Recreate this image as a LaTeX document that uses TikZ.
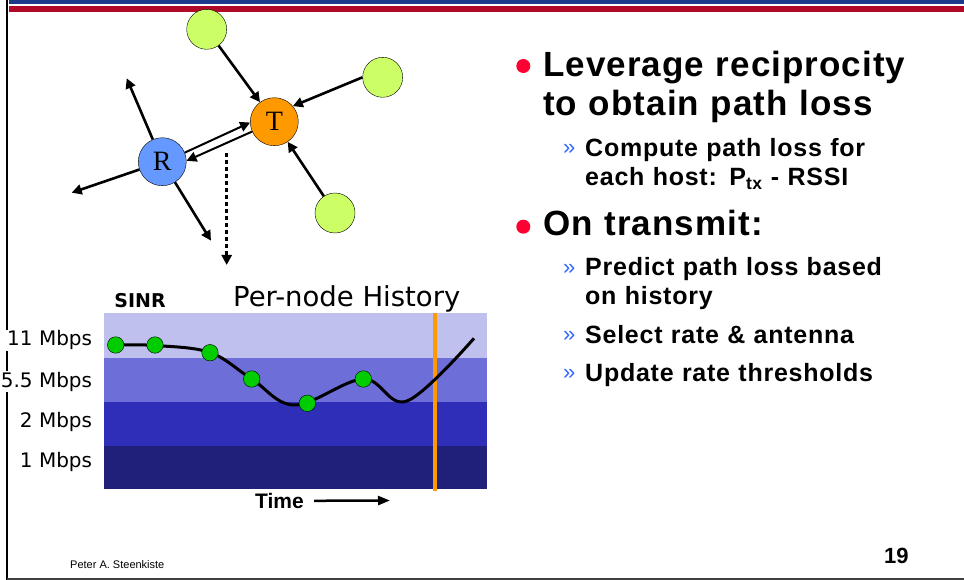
\documentclass[tikz,border=0pt]{standalone}
\usepackage{fontspec}
\setmainfont{Liberation Sans}
\newfontfamily\bulletfont[LetterSpace=3]{Liberation Sans}
\newfontfamily\stationfont{Liberation Serif}
\newfontfamily\chartfont{DejaVu Sans}
\usetikzlibrary{arrows.meta,positioning}

\definecolor{hostgreen}{HTML}{CCFF66}
\definecolor{txorange}{HTML}{FF9900}
\definecolor{rxblue}{HTML}{6699FF}
\definecolor{bandA}{HTML}{C0C0EE}
\definecolor{bandB}{HTML}{6E6ED8}
\definecolor{bandC}{HTML}{2E2EB8}
\definecolor{bandD}{HTML}{20207A}
\definecolor{dotgreen}{HTML}{00CC00}
\definecolor{bulletred}{HTML}{FF0033}
\definecolor{chevblue}{HTML}{3366FF}
\definecolor{barblueL}{HTML}{1E3A8A}
\definecolor{barblueM}{HTML}{3A6BF0}
\definecolor{barredL}{HTML}{B00A28}
\definecolor{barredM}{HTML}{FF0030}

\begin{document}
\begin{tikzpicture}[x=1pt, y=-1pt,
    host/.style={circle, draw, thin, fill=hostgreen, minimum size=40pt, inner sep=0pt},
    station/.style={circle, draw, thin, minimum size=48pt, inner sep=0pt, font=\stationfont\fontsize{28}{28}\selectfont},
    arrow/.style={-{Triangle[length=10pt,width=10pt]}, line width=2.6pt},
    sample/.style={circle, draw, thin, fill=dotgreen, minimum size=16.5pt, inner sep=0pt},
    rate/.style={anchor=base east, inner sep=1pt, fill=white, font=\chartfont\fontsize{20}{20}\selectfont},
    bullet/.style={circle, fill=bulletred, minimum size=14pt, inner sep=0pt},
    chev/.style={anchor=base west, inner sep=0pt, text=chevblue, font=\fontsize{22}{22}\selectfont},
    head/.style={anchor=base west, inner sep=0pt, text width=400pt, align=left, font=\bulletfont\bfseries\fontsize{35}{39.3}\selectfont},
    item/.style={anchor=base west, inner sep=0pt, text width=360pt, align=left, font=\bulletfont\bfseries\fontsize{25}{28.5}\selectfont}
]
    \useasboundingbox (0,0) rectangle (964,580);

    % slide frame
    \shade[left color=barblueL, middle color=barblueM, right color=barblueL] (9,0) rectangle (964,3.3);
    \shade[left color=barredL, middle color=barredM, right color=barredL] (9,6.7) rectangle (964,11.7);
    \draw[line width=2pt] (7,0) -- (7,580);
    \draw[line width=1.5pt, black!75] (7,579) -- (964,579);

    % hosts around the transmitter
    \node[host] (hostA) at (206.7,29.3) {};
    \node[host] (hostB) at (382.7,77.3) {};
    \node[host] (hostC) at (335,213) {};
    \node[station, fill=txorange] (tx) at (274.3,121.7) {T};
    \node[station, fill=rxblue] (rx) at (162.3,161.7) {R};
    \coordinate (outA) at (126.7,78.3);
    \coordinate (outB) at (71.7,192.7);
    \coordinate (outC) at (211,240.7);
    \coordinate (histtop) at (226.7,153);
    \coordinate (histend) at (226.7,265);

    \draw[arrow] (hostA) -- (tx);
    \draw[arrow] (hostB.west) -- (tx.40);
    \draw[arrow] (hostC) -- (tx);
    \draw[arrow] (rx) -- (outA);
    \draw[arrow] (rx) -- (outB);
    \draw[arrow] (rx) -- (outC);
    \draw[arrow, line width=2pt] (rx.22) -- (tx.182);
    \draw[arrow, line width=2pt] (tx.204) -- (rx.2);
    \draw[arrow, line width=3pt, dash pattern=on 4pt off 3pt] (histtop) -- (histend);

    % per-node history chart
    \fill[bandA] (104,313.3) rectangle (487.3,357.5);
    \fill[bandB] (104,357.5) rectangle (487.3,401.7);
    \fill[bandC] (104,401.7) rectangle (487.3,445.7);
    \fill[bandD] (104,445.7) rectangle (487.3,489);
    \draw[txorange, line width=3.3pt] (435,313) -- (435,490.7);
    \draw[line width=3pt] plot[smooth, tension=0.6] coordinates {(115.7,345) (155,345.5) (210,352.5) (251.7,379) (295,405) (363.3,379) (407,401) (474,338.3)};
    \node[sample] (s1) at (115.7,345) {};
    \node[sample] (s2) at (155,345) {};
    \node[sample] (s3) at (210,352.7) {};
    \node[sample] (s4) at (251.7,379) {};
    \node[sample] (s5) at (307.3,403.3) {};
    \node[sample] (s6) at (363.3,379) {};

    \node[anchor=base, inner sep=0pt, font=\chartfont\bfseries\fontsize{19}{19}\selectfont] (sinr) at (140,307.3) {SINR};
    \node[anchor=base west, inner sep=0pt, font=\chartfont\fontsize{27.5}{27.5}\selectfont] (hist) at (233,306) {Per-node History};
    \node[rate] (r11) at (93.3,345.7) {11 Mbps};
    \node[rate] (r55) at (93.3,387.3) {5.5 Mbps};
    \node[rate] (r2) at (93.3,427.3) {2 Mbps};
    \node[rate] (r1) at (93.3,467.3) {1 Mbps};
    \node[anchor=base west, inner sep=0pt, font=\bfseries\fontsize{21}{21}\selectfont] (time) at (255,508.3) {Time};
    \coordinate (timeend) at (390,500.5);
    \draw[-{Triangle[length=12pt,width=9pt]}, line width=2.5pt] ([xshift=10pt]time.east) -- (timeend);

    % bullet text
    \node[bullet] (b1) at (523.3,66) {};
    \node[head] (lev) at (543,76.7) {Leverage reciprocity\\to obtain path loss};
    \node[chev] (c1) at (563,155) {»};
    \node[item] (comp) at (585,157) {Compute path loss for\\each host: P\textsubscript{tx} - RSSI};
    \node[bullet] (b2) at (523.3,226.7) {};
    \node[head] (ontx) at (543,236) {On transmit:};
    \node[chev] (c2) at (563,274) {»};
    \node[item] (pred) at (585,276) {Predict path loss based\\on history};
    \node[chev] (c3) at (563,341) {»};
    \node[item] (sel) at (585,343) {Select rate \& antenna};
    \node[chev] (c4) at (563,379.7) {»};
    \node[item] (upd) at (585,381.7) {Update rate thresholds};

    % footer
    \node[anchor=base west, inner sep=0pt, font=\fontsize{11}{11}\selectfont] (author) at (70,568) {Peter A. Steenkiste};
    \node[anchor=base west, inner sep=0pt, font=\bfseries\fontsize{22}{22}\selectfont] (page) at (884,563) {19};
\end{tikzpicture}
\end{document}
